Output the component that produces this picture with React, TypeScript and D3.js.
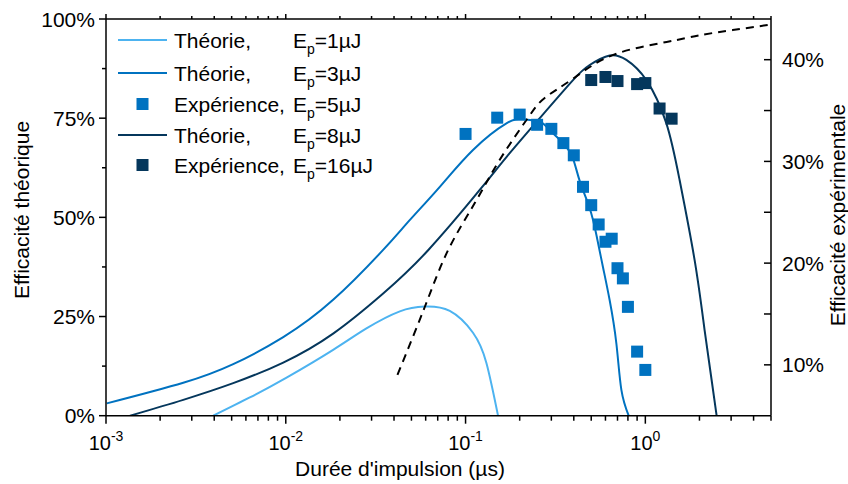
import React from 'react';
import * as d3 from 'd3';

// ---------- data ----------
const xTickValues = [1e-3, 1e-2, 1e-1, 1];
const xTickExponents = ['-3', '-2', '-1', '0'];
const leftTickValues = [0, 25, 50, 75, 100];
const leftMinorTicks = [12.5, 37.5, 62.5, 87.5];
const rightTickValues = [10, 20, 30, 40];
const rightMinorTicks = [15, 25, 35];

// Théorie Ep=1µJ (left axis, %)
const th1T = [0.00395, 0.00631, 0.0101, 0.01834, 0.0281, 0.0431, 0.0593, 0.0817, 0.110, 0.1306, 0.1516];
const th1E = [0, 4.6, 9.6, 16.6, 22.0, 26.3, 27.5, 26.4, 20.9, 13.3, 0];

// Théorie Ep=3µJ
const th3T = [0.00101, 0.00269, 0.0051, 0.00968, 0.01834, 0.0348, 0.0489, 0.0719, 0.110, 0.1688, 0.2087, 0.2585, 0.2938, 0.3469, 0.3944, 0.4313, 0.4902, 0.5341, 0.581, 0.6333, 0.69, 0.7357, 0.8078];
const th3E = [3.1, 8.3, 13.0, 19.8, 29.2, 41.8, 49.3, 57.7, 67.0, 73.7, 74.7, 74.1, 72.0, 68.8, 65.0, 59.2, 52.3, 45.6, 37.5, 29.1, 18.2, 6.5, 0];

// Théorie Ep=8µJ
const th8T = [0.00136, 0.00269, 0.0051, 0.00968, 0.01834, 0.0348, 0.0619, 0.1199, 0.1688, 0.2585, 0.396, 0.4902, 0.6333, 0.7843, 1.013, 1.309, 1.551, 1.88, 2.136, 2.337, 2.492];
const th8E = [0, 4.0, 8.2, 13.4, 20.7, 30.8, 41.7, 56.9, 65.2, 75.0, 84.6, 88.4, 90.8, 89.7, 84.6, 73.7, 59.4, 39.2, 21.6, 9.0, 0];

// dashed curve
const envT = [0.0418, 0.0593, 0.0799, 0.1125, 0.1549, 0.2217, 0.2755, 0.3944, 0.658, 1.313, 2.004, 3.058, 5];
const envE = [10.3, 27.4, 41.7, 53.6, 64.5, 75.0, 80.1, 84.9, 90.9, 94.2, 95.9, 97.2, 98.6];

// Expérience Ep=5µJ (right axis, %)
const exp5T = [0.1, 0.15, 0.2, 0.25, 0.3, 0.35, 0.4, 0.45, 0.5, 0.55, 0.6, 0.65, 0.7, 0.75, 0.8, 0.9, 1.0];
const exp5E = [32.7, 34.3, 34.6, 33.6, 33.2, 31.8, 30.6, 27.5, 25.7, 23.8, 22.1, 22.4, 19.5, 18.5, 15.7, 11.3, 9.5];

// Expérience Ep=16µJ
const exp16T = [0.5, 0.6, 0.7, 0.9, 1.0, 1.2, 1.4];
const exp16E = [38.0, 38.3, 37.9, 37.6, 37.7, 35.2, 34.2];

const legendLabels = ['Théorie,', 'Théorie,', 'Expérience,', 'Théorie,', 'Expérience,'];
const legendEnergies = ['=1µJ', '=3µJ', '=5µJ', '=8µJ', '=16µJ'];

// ---------- styles ----------
const C_LIGHT = '#4DB3F0';
const C_MED = '#0072C0';
const C_DARK = '#05375C';
const FONT = '"Liberation Sans", Arial, Helvetica, sans-serif';

const L = 106, R = 771, T = 19, B = 415.7;

export default function App() {
  const x = d3.scaleLog().domain([1e-3, 5]).range([L, R]);
  const yL = d3.scaleLinear().domain([0, 100]).range([B, T]);
  const yR = d3.scaleLinear().domain([5, 44]).range([B, T]);

  const mk = (ts: number[], es: number[], ys: any) =>
    d3.line<number>()
      .x((_, i) => x(ts[i]))
      .y((_, i) => ys(es[i]))
      .curve(d3.curveNatural)(ts) || '';

  const minorX: number[] = [];
  for (let d = -3; d <= 0; d++) {
    for (let k = 2; k <= 9; k++) {
      const v = k * Math.pow(10, d);
      if (v <= 5.0001) minorX.push(v);
    }
  }

  const sq = 12;
  const legendTypes = ['line', 'line', 'sq', 'line', 'sq'];
  const legendColors = [C_LIGHT, C_MED, C_MED, C_DARK, C_DARK];
  const legendY = [40, 73, 104, 135, 165];

  return (
    <svg width={848} height={484} style={{ position: 'absolute', left: 0, top: 0, background: '#fff' }} fontFamily={FONT}>
      <defs>
        <clipPath id="plot">
          <rect x={L} y={T - 5} width={R - L} height={B - T + 5} />
        </clipPath>
      </defs>
      <rect width={848} height={484} fill="#fff" />

      <g clipPath="url(#plot)" fill="none" strokeWidth={2}>
        <path d={mk(th1T, th1E, yL)} stroke={C_LIGHT} />
        <path d={mk(th3T, th3E, yL)} stroke={C_MED} />
        <path d={mk(th8T, th8E, yL)} stroke={C_DARK} />
        <path d={mk(envT, envE, yL)} stroke="#000" strokeDasharray="8,6" />
      </g>

      {exp5T.map((t, i) => (
        <rect key={'a' + i} x={x(t) - sq / 2} y={yR(exp5E[i]) - sq / 2} width={sq} height={sq} fill={C_MED} />
      ))}
      {exp16T.map((t, i) => (
        <rect key={'b' + i} x={x(t) - sq / 2} y={yR(exp16E[i]) - sq / 2} width={sq} height={sq} fill={C_DARK} />
      ))}

      {/* frame */}
      <g stroke="#000" strokeWidth={1.5} fill="none">
        <line x1={L} x2={R} y1={B} y2={B} />
        <line x1={L} x2={R} y1={T} y2={T} />
        <line x1={L} x2={L} y1={T} y2={B} />
        <line x1={R} x2={R} y1={T} y2={B} />
        {xTickValues.map((v, i) => (
          <g key={'xt' + i}>
            <line x1={x(v)} x2={x(v)} y1={B} y2={B + 8} />
            <line x1={x(v)} x2={x(v)} y1={T} y2={T - 5} />
          </g>
        ))}
        {minorX.map((v, i) => (
          <g key={'xm' + i}>
            <line x1={x(v)} x2={x(v)} y1={B} y2={B + 5} />
            <line x1={x(v)} x2={x(v)} y1={T} y2={T - 3} />
          </g>
        ))}
        {leftTickValues.map((v, i) => (
          <line key={'lt' + i} x1={L - 7} x2={L} y1={yL(v)} y2={yL(v)} />
        ))}
        {leftMinorTicks.map((v, i) => (
          <line key={'lm' + i} x1={L - 4} x2={L} y1={yL(v)} y2={yL(v)} />
        ))}
        {rightTickValues.map((v, i) => (
          <line key={'rt' + i} x1={R - 7} x2={R} y1={yR(v)} y2={yR(v)} />
        ))}
        {rightMinorTicks.map((v, i) => (
          <line key={'rm' + i} x1={R - 7} x2={R} y1={yR(v)} y2={yR(v)} />
        ))}
      </g>

      {/* tick labels */}
      <g fontSize={21} fill="#000">
        {leftTickValues.map((v, i) => (
          <text key={'ll' + i} x={L - 11} y={yL(v) + 7.5} textAnchor="end">{v}%</text>
        ))}
        {rightTickValues.map((v, i) => (
          <text key={'rl' + i} x={R + 11} y={yR(v) + 7.5}>{v}%</text>
        ))}
        {xTickValues.map((v, i) => (
          <text key={'xl' + i} x={x(v)} y={450} textAnchor="middle" fontSize={20}>
            10<tspan fontSize={14} dy={-9}>{xTickExponents[i]}</tspan>
          </text>
        ))}
      </g>

      {/* axis titles */}
      <text x={400} y={476} fontSize={21} textAnchor="middle">Durée d'impulsion (µs)</text>
      <text transform="translate(29,210) rotate(-90)" fontSize={21} textAnchor="middle">Efficacité théorique</text>
      <text transform="translate(845,215) rotate(-90)" fontSize={21} textAnchor="middle">Efficacité expérimentale</text>

      {/* legend */}
      <g fontSize={21}>
        {legendLabels.map((lab, i) => (
          <g key={'lg' + i}>
            {legendTypes[i] === 'line' ? (
              <line x1={118} x2={167} y1={legendY[i]} y2={legendY[i]} stroke={legendColors[i]} strokeWidth={2} />
            ) : (
              <rect x={142.5 - sq / 2} y={legendY[i] - sq / 2} width={sq} height={sq} fill={legendColors[i]} />
            )}
            <text x={174} y={legendY[i] + 7.5}>{lab}</text>
            <text x={293} y={legendY[i] + 7.5}>
              E<tspan fontSize={14} dy={6}>p</tspan><tspan dy={-6}>{legendEnergies[i]}</tspan>
            </text>
          </g>
        ))}
      </g>
    </svg>
  );
}
